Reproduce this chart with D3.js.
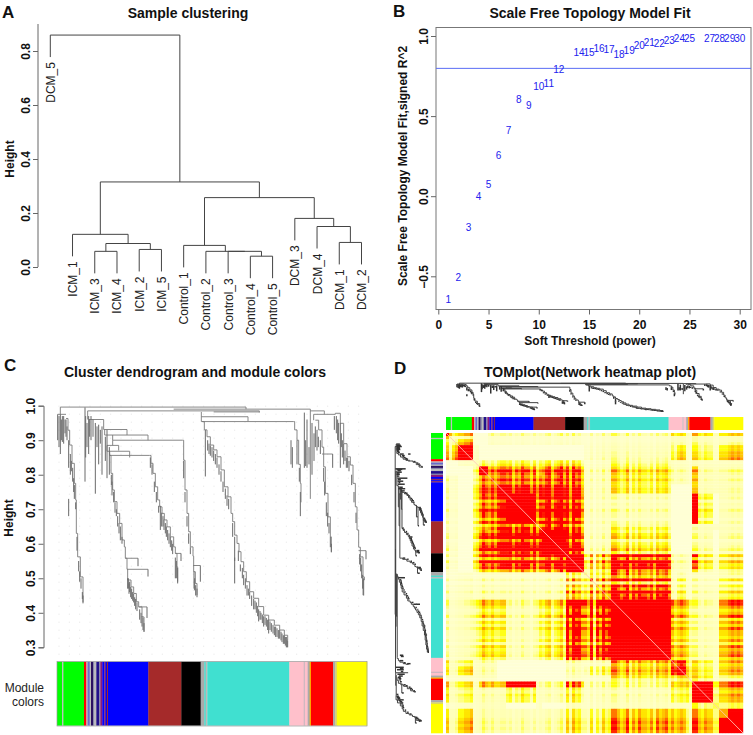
<!DOCTYPE html>
<html><head><meta charset="utf-8">
<script src="https://cdn.jsdelivr.net/npm/d3@7/dist/d3.min.js"></script>
<style>html,body{margin:0;padding:0;background:#fff}svg{display:block;font-family:"Liberation Sans",Arial,sans-serif}</style>
</head><body><svg id="c" width="753" height="735"></svg>
<script>
// ---------- Panel A
const sampleLabels = ["DCM_5","ICM_1","ICM_3","ICM_4","ICM_2","ICM_5","Control_1","Control_2","Control_3","Control_4","Control_5","DCM_3","DCM_4","DCM_1","DCM_2"];
// merges: [childA, childB, height]; child >=0 is leaf index, "mN" refers to merge N
const sampleMerges = [
 [2,3,0.058],[4,5,0.065],["m0","m1",0.087],[1,"m2",0.121],
 [9,10,0.04],[8,"m4",0.058],[7,"m5",0.058],[6,"m6",0.08],
 [13,14,0.091],[12,"m8",0.15],[11,"m9",0.18],["m7","m10",0.257],
 ["m3","m11",0.315],[0,"m12",0.859]];
const sampleTicks = [0,0.2,0.4,0.6,0.8];
const sampleHang = 0.0815;
// ---------- Panel B
const powers = [1,2,3,4,5,6,7,8,9,10,11,12,14,15,16,17,18,19,20,21,22,23,24,25,27,28,29,30];
const fitValues = [-0.643,-0.507,-0.196,-0.002,0.073,0.252,0.407,0.60,0.567,0.682,0.705,0.788,0.898,0.894,0.919,0.917,0.883,0.908,0.94,0.958,0.952,0.969,0.981,0.983,0.981,0.981,0.981,0.981];
const fitCut = 0.798;
const powerTicks = [0,5,10,15,20,25,30];
const fitTicks = [-0.5,0,0.5,1];
// ---------- Panel C / D modules
const moduleColors = ["#00ff00","#bebebe","#00ff00","#ff0000","#bbbbbb","#6a6ac8","#bbbbbb","#2a1060","#8888aa","#bbbbbb","#20108a","#8888aa","#8a1a7a","#0000ff","#8a2a6a","#0000ff","#a52a2a","#0000ff","#a52a2a","#000000","#aaaaaa","#40e0d0","#bbbbbb","#40e0d0","#ffc0cb","#d0b8c0","#ffc0cb","#aaaaaa","#ffa500","#ff0000","#aaaaaa","#ddd860","#ffff00"];
const moduleSizes = [15,4,62,7,4,6,4,6,4,6,8,4,6,6,4,4,3,121,99,58,11,4,5,246,43,4,8,6,4,66,7,5,90];
const geneTotal = 930;
const heightTicks = [0.3,0.4,0.5,0.6,0.7,0.8,0.9,1.0];
// gene dendrogram: trunks [rank,height]
const greenTrunk = [[27,.963],[33,.929],[38,.886],[45,.833],[52,.775],[56,.727],[58,.63],[62,.562],[70,.504],[78,.427]];
const blueTrunk = [[158,.856],[162,.804],[167,.756],[172,.722],[180,.688],[188,.659],[195,.611],[202,.591],[205,.558],[210,.526],[212,.495],[222,.475],[230,.456],[238,.432],[245,.417],[255,.388],[261,.345]];
const brownTrunk = [[277,.856],[282,.833],[288,.804],[295,.765],[302,.727],[308,.707],[315,.688],[322,.669],[330,.649],[340,.62],[350,.591],[355,.572],[360,.533],[362,.49]];
const blackTrunk = [[377,.90],[380,.842],[384,.756],[390,.688],[395,.635],[400,.591],[408,.564],[410,.519],[415,.485],[420,.451]];
const turquoiseTrunk = [[435,.954],[442,.93],[450,.91],[460,.886],[470,.872],[480,.852],[492,.814],[502,.765],[513,.736],[522,.688],[527,.664],[533,.625],[540,.601],[546,.577],[552,.548],[560,.519],[568,.49],[578,.461],[590,.442],[605,.418],[620,.393],[635,.379],[652,.364],[668,.35],[682,.335],[692,.321],[690,.30]];
const pinkTrunk = [[710,.954],[713,.93],[720,.90],[725,.83],[730,.775],[732,.72]];
const redTrunk = [[775,.958],[785,.93],[795,.88],[800,.823],[805,.746],[813,.678],[820,.62],[823,.577]];
const yellowTrunk = [[835,.978],[850,.949],[860,.89],[870,.852],[880,.828],[888,.775],[895,.707],[900,.64],[905,.59],[910,.562],[918,.504],[922,.495],[918,.451]];
// horizontals [rankA,rankB,height]
const dendroLinks = [[10,567,.996],[92,607,.985],[350,760,.99],[760,802,.985],[770,835,.975],[2,27,.975],[95,140,.96],[140,210,.931],[143,273,.915],[167,377,.90],[150,185,.885],[150,218,.868],[158,277,.856],[205,243,.558],[210,273,.526],[245,270,.417],[355,372,.572],[408,430,.537],[433,573,.968],[433,710,.954],[795,827,.86],[905,927,.58],[470,607,.982]];
// verticals [rank,top,bottom]
const dendroStems = [[10,.996,.975],[92,.985,.96],[567,.996,.99],[607,.985,.98],[760,.99,.73],[140,.96,.931],[143,.931,.915],[210,.931,.915],[273,.915,.90],[167,.915,.90],[167,.90,.885],[150,.885,.868],[185,.885,.87],[158,.868,.856],[218,.868,.85],[377,.90,.90],[433,.982,.954],[573,.968,.955],[802,.985,.975],[770,.975,.958],[835,.975,.978]];
const dendroTeeth = [
 [2,.975,.90],[6,.97,.88],[10,.975,.86],[13,.96,.90],[16,.97,.895],[20,.97,.89],[24,.96,.92],[27,.96,.91],[30,.94,.90],[35,.90,.82],[40,.86,.80],[43,.84,.81],[47,.82,.78],[35,.73,.68],[50,.79,.75],[52,.77,.73],[56,.72,.70],[60,.62,.58],[65,.55,.52],[68,.52,.49],[72,.50,.47],[76,.46,.44],[78,.45,.43],
 [84,.995,.78],[86,.97,.85],[90,.95,.88],[95,.97,.86],[98,.96,.91],[102,.97,.90],[108,.96,.91],[115,.95,.745],[120,.94,.88],[125,.945,.83],[130,.93,.89],[135,.94,.80],[150,.93,.79],[145,.91,.84],[157,.88,.80],[163,.80,.77],
 [165,.78,.74],[170,.75,.72],[174,.72,.69],[178,.70,.68],[182,.68,.65],[186,.66,.63],[190,.65,.61],[195,.62,.60],[243,.558,.535],[273,.526,.505],[212,.50,.47],[214,.50,.47],[216,.485,.455],[218,.49,.46],[221,.475,.445],[224,.47,.44],[227,.46,.435],[230,.455,.43],[233,.445,.42],[236,.44,.41],[240,.43,.405],[270,.417,.385],[248,.41,.38],[252,.40,.37],[255,.39,.36],[258,.385,.35],[261,.37,.345],
 [280,.85,.82],[285,.83,.80],[292,.78,.75],[298,.75,.72],[305,.71,.69],[310,.71,.64],[314,.69,.65],[318,.68,.65],[321,.67,.64],[325,.66,.63],[328,.65,.62],[332,.64,.61],[336,.63,.60],[340,.62,.59],[344,.61,.58],[347,.60,.57],[372,.572,.55],[355,.56,.50],[358,.55,.50],[362,.53,.485],
 [380,.84,.79],[384,.75,.72],[390,.68,.65],[395,.63,.60],[400,.59,.57],[430,.537,.49],[411,.52,.47],[413,.50,.465],[416,.48,.45],[420,.47,.445],
 [445,.93,.795],[452,.90,.87],[456,.89,.86],[460,.885,.855],[465,.88,.85],[470,.87,.84],[475,.86,.83],[480,.85,.82],[486,.83,.80],[492,.81,.78],[498,.78,.75],[505,.76,.73],[510,.74,.71],[515,.73,.70],[527,.66,.62],[533,.62,.55],[533,.56,.485],[544,.58,.55],[550,.54,.52],[556,.53,.50],[560,.51,.48],[565,.50,.47],[570,.48,.45],[574,.47,.45],[578,.46,.44],[584,.45,.42],[590,.44,.41],[594,.435,.41],[598,.43,.40],[602,.42,.39],[605,.41,.375],[609,.405,.38],[612,.40,.38],[616,.395,.37],[620,.39,.36],[624,.39,.365],[628,.385,.36],[632,.38,.35],[635,.38,.34],[639,.375,.35],[643,.37,.345],[648,.365,.34],[652,.36,.335],[656,.36,.33],[660,.355,.33],[664,.35,.325],[668,.35,.325],[672,.345,.32],[675,.34,.315],[679,.335,.31],[682,.335,.31],[685,.33,.305],[688,.33,.30],[692,.32,.30],
 [702,.90,.83],[706,.88,.82],[720,.90,.83],[727,.82,.78],[730,.75,.68],[742,.98,.82],[746,.90,.825],[750,.96,.82],[756,.88,.83],[765,.95,.80],[771,.92,.84],[775,.94,.88],[780,.93,.87],[784,.91,.88],[790,.90,.86],[827,.86,.82],[800,.82,.78],[803,.78,.74],[808,.72,.68],[812,.69,.65],[816,.66,.63],[820,.62,.59],[823,.60,.575],
 [832,.97,.93],[838,.97,.92],[842,.96,.90],[845,.95,.89],[850,.95,.82],[853,.92,.88],[856,.90,.85],[860,.89,.83],[864,.87,.84],[868,.85,.82],[872,.85,.82],[876,.84,.81],[884,.80,.77],[891,.75,.72],[897,.69,.66],[927,.58,.555],[908,.57,.54],[911,.56,.52],[914,.54,.50],[917,.51,.47],[920,.50,.45]];
const guideHeightTop = 1.0;
// ---------- Panel D heatmap: each string is a segment of stripe strength (digit per bin)
const heatLoad = ["83","34","55667","45","697","686","677","6746586647","46","57846795","849674","437264856","99756947586657486785","75","676","53","99","65766","55","666","78787"];
// upper triangle of segment-to-segment adjacency (digit per segment)
const heatBlocks = ["633001111111122122122","57001111111122122122","9100000001123122133","222333331211111111","83443441211121111","3444441211121111","666651200021111","96761100062011","5751200011111","961200011011","93611132122","4612111122","933311133","56322133","9422133","533122","88233","9233","322","46","9"];
const heatBins = 99;

const svg = d3.select("#c");
const boldText = (x,y,s,size,anchor="middle",rot=0)=>svg.append("text").attr("transform",`translate(${x},${y}) rotate(${rot})`).attr("text-anchor",anchor).attr("font-weight","bold").attr("font-size",size).attr("fill","#111").text(s);
function styleAxis(g){ g.selectAll("path,line").attr("stroke","#666").attr("stroke-width",1); g.selectAll("text").attr("font-weight","bold").attr("font-size",12).attr("font-family","inherit").attr("fill","#111"); }
function rotateY(g,off){ g.selectAll(".tick text").attr("transform",`rotate(-90)`).attr("x",0).attr("y",-off).attr("dy",0).attr("text-anchor","middle"); }

[["A",2,18],["B",393,17],["C",4,371],["D",394,374]].forEach(d=>boldText(d[1],d[2],d[0],17,"start"));
boldText(188,18,"Sample clustering",14);
boldText(590,18,"Scale Free Topology Model Fit",14);
boldText(195,377,"Cluster dendrogram and module colors",14);
boldText(590,377,"TOMplot(Network heatmap plot)",14);

// Panel A
const ax = d3.scaleLinear().domain([0,14]).range([50.3,361.5]);
const ay = d3.scaleLinear().domain([0,0.8]).range([267,51]);
const aAxis = svg.append("g").attr("transform","translate(38,0)").call(d3.axisLeft(ay).tickValues(sampleTicks).tickFormat(d3.format(".1f")).tickSize(5));
styleAxis(aAxis); rotateY(aAxis,8);
aAxis.select(".domain").attr("d",`M0,${ay(0)}V${ay(0.9)}`);
boldText(14,159,"Height",12,"middle",-90);
const nodes = {};
const nodeOf = c=>typeof c==="number"?{x:c,h:null,leaf:c}:nodes[c];
const aG = svg.append("g").attr("fill","none").attr("stroke","#444").attr("stroke-width",1);
sampleMerges.forEach((m,i)=>{
  const a=nodeOf(m[0]),b=nodeOf(m[1]),h=m[2];
  nodes["m"+i]={x:(a.x+b.x)/2,h};
  const end=n=>n.h===null?h-sampleHang:n.h;
  aG.append("path").attr("d",`M${ax(a.x)},${ay(end(a))}V${ay(h)}H${ax(b.x)}V${ay(end(b))}`);
  [a,b].filter(n=>n.h===null).forEach(n=>{
    svg.append("text").attr("transform",`translate(${ax(n.x)+4.5},${ay(end(n))+5}) rotate(-90)`).attr("text-anchor","end").attr("font-size",12).attr("fill","#222").text(sampleLabels[n.leaf]);
  });
});

// Panel B
const bx = d3.scaleLinear().domain([0,30]).range([438.3,739.7]);
const by = d3.scaleLinear().domain([-0.5,1]).range([276.3,36]);
svg.append("rect").attr("x",436).attr("y",27.5).attr("width",315).attr("height",282).attr("fill","none").attr("stroke","#777");
const bxA = svg.append("g").attr("transform","translate(0,309.5)").call(d3.axisBottom(bx).tickValues(powerTicks).tickSize(5)); styleAxis(bxA);
bxA.selectAll("text").attr("y",11); bxA.select(".domain").remove();
const byA = svg.append("g").attr("transform","translate(436,0)").call(d3.axisLeft(by).tickValues(fitTicks).tickFormat(d=>d3.format(".1f")(d).replace("-","\u2212")).tickSize(5)); styleAxis(byA); rotateY(byA,8);
byA.select(".domain").remove();
boldText(590,345,"Soft Threshold (power)",12);
boldText(407,166,"Scale Free Topology Model Fit,signed R^2",12,"middle",-90);
svg.append("line").attr("x1",436).attr("x2",751).attr("y1",by(fitCut)).attr("y2",by(fitCut)).attr("stroke","#5a6cf5").attr("stroke-width",1);
svg.append("g").selectAll("text").data(powers).join("text").attr("x",d=>bx(d)).attr("y",(d,i)=>by(fitValues[i])+3.4).attr("text-anchor","middle").attr("font-size",10).attr("fill","#2222ee").text(d=>d);

// Panel C
const cRank = d3.scaleLinear().domain([0,geneTotal]).range([57,367]);
const cH = d3.scaleLinear().domain([0.3,1]).range([647.3,405.7]);
const cA = svg.append("g").attr("transform","translate(43.5,0)").call(d3.axisLeft(cH).tickValues(heightTicks).tickFormat(d3.format(".1f")).tickSize(5)); styleAxis(cA); rotateY(cA,9);
boldText(13,518,"Height",12,"middle",-90);
const guide = svg.append("g").attr("stroke","#e4e4e4").attr("stroke-width",1).attr("stroke-dasharray","1 7");
guide.selectAll("line").data(d3.range(6,geneTotal,31)).join("line").attr("x1",d=>cRank(d)).attr("x2",d=>cRank(d)).attr("y1",cH(guideHeightTop)).attr("y2",656);

const trunks = [greenTrunk,blueTrunk,brownTrunk,blackTrunk,turquoiseTrunk,pinkTrunk,redTrunk,yellowTrunk];
function dendro(X,Y,curve,thin,thick,stroke,toothStroke){
  const g = svg.append("g").attr("fill","none");
  const line = d3.line().x(p=>X(p[0],p[1])).y(p=>Y(p[0],p[1])).curve(curve);
  g.append("g").selectAll("path").data(dendroLinks).join("path").attr("d",d=>`M${X(d[0],d[2])},${Y(d[0],d[2])}L${X(d[1],d[2])},${Y(d[1],d[2])}`).attr("stroke",stroke).attr("stroke-width",thin);
  g.append("g").selectAll("path").data(dendroStems).join("path").attr("d",d=>`M${X(d[0],d[1])},${Y(d[0],d[1])}L${X(d[0],d[2])},${Y(d[0],d[2])}`).attr("stroke",stroke).attr("stroke-width",thin);
  g.append("g").selectAll("path").data(trunks).join("path").attr("d",line).attr("stroke",stroke).attr("stroke-width",thin);
  g.append("g").selectAll("path").data(dendroTeeth).join("path").attr("d",d=>`M${X(d[0],d[1])},${Y(d[0],d[1])}L${X(d[0],d[2])},${Y(d[0],d[2])}`).attr("stroke",toothStroke).attr("stroke-width",thick);
}
dendro((r,h)=>cRank(r),(r,h)=>cH(h),d3.curveStepAfter,0.9,1,"#7a7a7a","#6a6a6a");

function moduleBar(pos,cross0,cross1,vertical){
  let acc=0; const cells=moduleSizes.map((s,i)=>{const c={a:acc,b:acc+s,col:moduleColors[i]};acc+=s;return c;});
  svg.append("g").selectAll("rect").data(cells).join("rect")
    .attr("x",d=>vertical?cross0:pos(d.a)).attr("y",d=>vertical?pos(d.a):cross0)
    .attr("width",d=>vertical?cross1-cross0:pos(d.b)-pos(d.a)+0.3).attr("height",d=>vertical?pos(d.b)-pos(d.a)+0.3:cross1-cross0)
    .attr("fill",d=>d.col);
}
moduleBar(cRank,661.7,725.7,false);
svg.append("rect").attr("x",57).attr("y",661.5).attr("width",310).attr("height",64.5).attr("fill","none").attr("stroke","#999").attr("stroke-width",0.7);
svg.append("text").attr("x",44).attr("y",692).attr("text-anchor","end").attr("font-size",12).attr("fill","#222").text("Module");
svg.append("text").attr("x",44).attr("y",706).attr("text-anchor","end").attr("font-size",12).attr("fill","#222").text("colors");

// Panel D
const dX = d3.scaleLinear().domain([0,geneTotal]).range([446,743]);
const dY = d3.scaleLinear().domain([0,geneTotal]).range([433,733]);
moduleBar(dX,417,430,false);
moduleBar(dY,431,443,true);
const dH = d3.scaleLinear().domain([0.3,1]).range([412,383]);
const dSpread = d3.scaleLinear().domain([0,geneTotal]).range([0.035,0.97]);
dendro((r,h)=>446+297*dSpread(r),(r,h)=>dH(h),d3.curveStepAfter,1,1.5,"#444","#333");
const dHL = d3.scaleLinear().domain([0.3,1]).range([429,395]);
dendro((r,h)=>dHL(h),(r,h)=>433+300*dSpread(r),d3.curveStepBefore,1,1.5,"#444","#333");

const bins = d3.range(heatBins);
const hx = d3.scaleBand().domain(bins).range([446,743]);
const hy = d3.scaleBand().domain(bins).range([433,733]);
const segOf=[], loadOf=[];
heatLoad.forEach((s,si)=>{ for(const ch of s){ segOf.push(si); loadOf.push(Math.pow(+ch/5,1.1)); } });
// a block digit of 9 marks a saturated (fully red) block
const blockVal=(a,b)=>{ const i=Math.min(a,b), j=Math.max(a,b), v=+heatBlocks[i][j-i]||0; return v===9?2.2:v/9; };
const heatColor = d3.scaleLinear().domain([0,0.22,0.42,0.7,1.0]).range(["#ffffd5","#ffffb0","#ffff00","#ffa000","#ff0000"]).clamp(true);
const cells=[]; bins.forEach(i=>bins.forEach(j=>cells.push({i,j,v:blockVal(segOf[i],segOf[j])*loadOf[i]*loadOf[j]})));
const defs=svg.append("defs"); defs.append("filter").attr("id","soft").append("feGaussianBlur").attr("stdDeviation",0.7);
const hg=svg.append("g").attr("filter","url(#soft)");
hg.selectAll("rect").data(cells).join("rect").attr("x",d=>hx(d.j)).attr("y",d=>hy(d.i)).attr("width",hx.bandwidth()+0.2).attr("height",hy.bandwidth()+0.2).attr("fill",d=>heatColor(d.v));
svg.append("line").attr("x1",hx(0)).attr("y1",hy(0)).attr("x2",743).attr("y2",733).attr("stroke","#ffc8b8").attr("stroke-width",1).attr("opacity",.85);
</script></body></html>
